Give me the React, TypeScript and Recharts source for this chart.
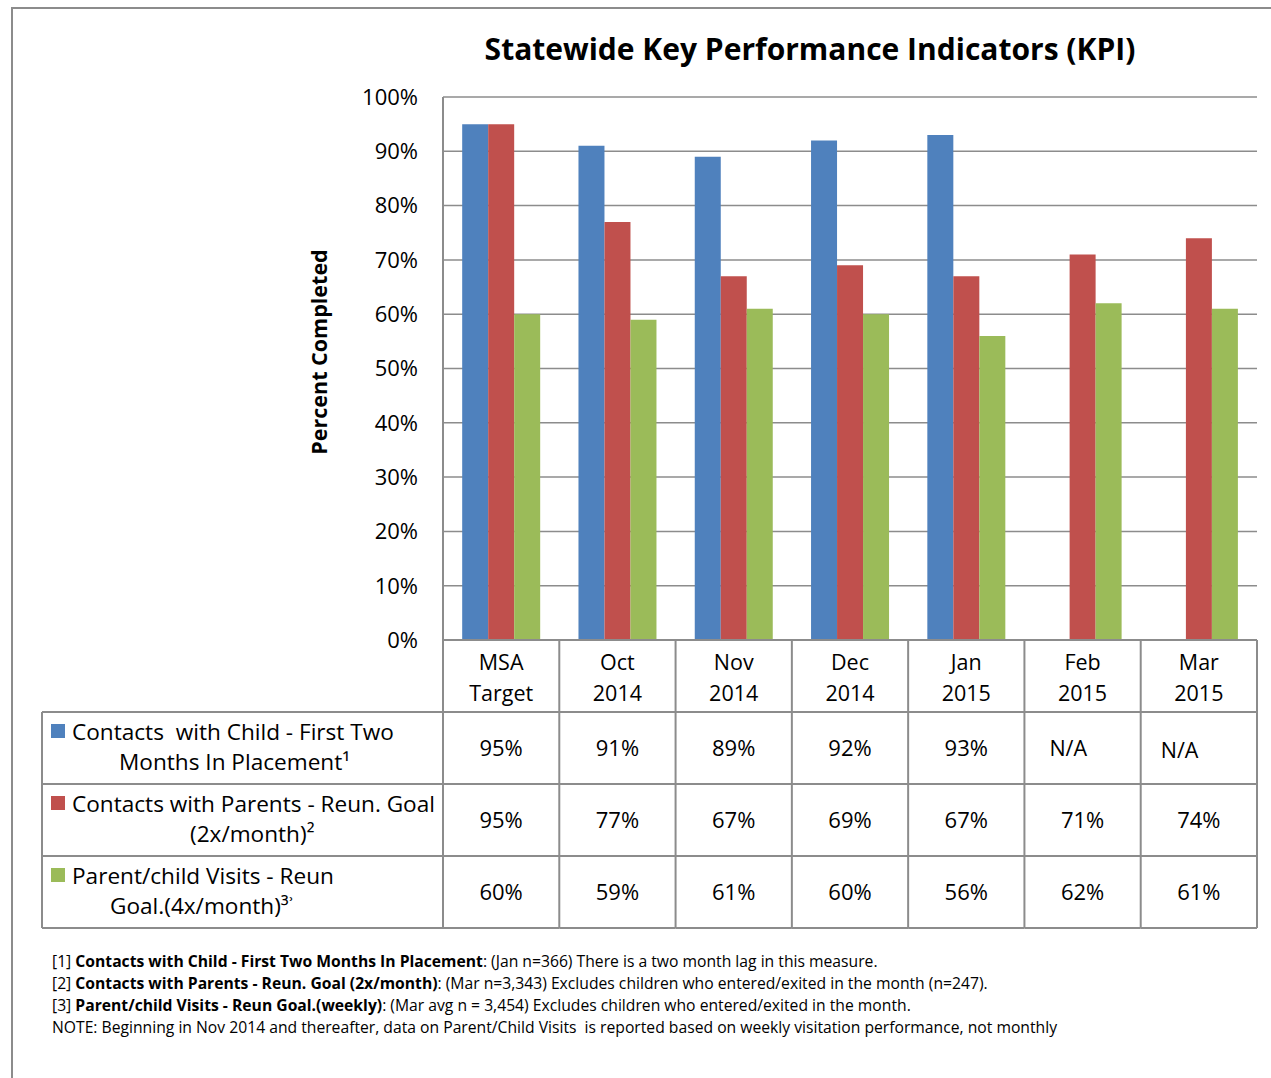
import React from 'react';
import { BarChart, Bar, XAxis, YAxis, CartesianGrid } from 'recharts';

const categories = ['MSA Target', 'Oct 2014', 'Nov 2014', 'Dec 2014', 'Jan 2015', 'Feb 2015', 'Mar 2015'];
const categoryLines = [
  ['MSA', 'Target'],
  ['Oct', '2014'],
  ['Nov', '2014'],
  ['Dec', '2014'],
  ['Jan', '2015'],
  ['Feb', '2015'],
  ['Mar', '2015'],
];
const childContacts: (number | null)[] = [95, 91, 89, 92, 93, null, null];
const parentContacts: (number | null)[] = [95, 77, 67, 69, 67, 71, 74];
const parentChildVisits: (number | null)[] = [60, 59, 61, 60, 56, 62, 61];
const yTicks = [0, 10, 20, 30, 40, 50, 60, 70, 80, 90, 100];

const seriesKeys = ['child', 'parent', 'visits'];
const seriesColors = ['#4F81BD', '#C0504D', '#9BBB59'];
const seriesLegendLines = [
  ['Contacts  with Child - First Two', 'Months In Placement\u00B9'],
  ['Contacts with Parents - Reun. Goal', '(2x/month)\u00B2'],
  ['Parent/child Visits - Reun', 'Goal.(4x/month)\u00B3\u02BE'],
];
const seriesValues = [childContacts, parentContacts, parentChildVisits];

const title = 'Statewide Key Performance Indicators (KPI)';
const yAxisTitle = 'Percent Completed';
const footnotes: [string, string, string][] = [
  ['[1] ', 'Contacts with Child - First Two Months In Placement', ': (Jan n=366) There is a two month lag in this measure.'],
  ['[2] ', 'Contacts with Parents - Reun. Goal (2x/month)', ': (Mar n=3,343) Excludes children who entered/exited in the month (n=247).'],
  ['[3] ', 'Parent/child Visits - Reun Goal.(weekly)', ': (Mar avg n = 3,454) Excludes children who entered/exited in the month.'],
  ['NOTE: Beginning in Nov 2014 and thereafter, data on Parent/Child Visits  is reported based on weekly visitation performance, not monthly', '', ''],
];

const data = categories.map((c, i) => ({
  cat: c,
  child: childContacts[i],
  parent: parentContacts[i],
  visits: parentChildVisits[i],
}));

const W = 1271;
const H = 1078;
const PLOT_LEFT = 443;
const PLOT_RIGHT = 1257;
const TABLE_LEFT = 42;
const ROW_H = 72;
const BAND = (PLOT_RIGHT - PLOT_LEFT) / categories.length;
const GRID = '#8c8c8c';
const FONT = '"Open Sans", Lato, sans-serif';

const idxOf = (payload: any) =>
  typeof payload.index === 'number' ? payload.index : categories.indexOf(payload.value);

function HeaderTick(props: any) {
  const { x, y, payload } = props;
  const idx = idxOf(payload);
  const lines = categoryLines[idx] || ['', ''];
  const left = x - BAND / 2;
  const right = x + BAND / 2;
  return (
    <g>
      {idx === 0 && <line x1={left} x2={left} y1={y} y2={y + ROW_H} stroke={GRID} strokeWidth={2} />}
      <line x1={right} x2={right} y1={y} y2={y + ROW_H} stroke={GRID} strokeWidth={2} />
      <text x={x} y={y + 21} textAnchor="middle" dominantBaseline="central" fontSize={21.5} fontFamily={FONT} fill="#000">
        {lines[0]}
      </text>
      <text x={x} y={y + 52} textAnchor="middle" dominantBaseline="central" fontSize={21.5} fontFamily={FONT} fill="#000">
        {lines[1]}
      </text>
    </g>
  );
}

const legendLine2X = [119, 190, 110];

function makeValueTick(row: number) {
  return function ValueTick(props: any) {
    const { x, y, payload } = props;
    const idx = idxOf(payload);
    const v = seriesValues[row][idx];
    const left = x - BAND / 2;
    const right = x + BAND / 2;
    const isLast = row === seriesValues.length - 1;
    const label = v == null ? 'N/A' : `${v}%`;
    const naOffset = idx === categories.length - 1 ? 20 : 25;
    return (
      <g>
        <line x1={left} x2={right} y1={y} y2={y} stroke={GRID} strokeWidth={2} />
        <line x1={right} x2={right} y1={y} y2={y + ROW_H} stroke={GRID} strokeWidth={2} />
        {isLast && <line x1={left} x2={right} y1={y + ROW_H} y2={y + ROW_H} stroke={GRID} strokeWidth={2} />}
        {idx === 0 && (
          <g>
            <line x1={TABLE_LEFT} x2={left} y1={y} y2={y} stroke={GRID} strokeWidth={2} />
            <line x1={TABLE_LEFT} x2={TABLE_LEFT} y1={y} y2={y + ROW_H} stroke={GRID} strokeWidth={2} />
            <line x1={left} x2={left} y1={y} y2={y + ROW_H} stroke={GRID} strokeWidth={2} />
            {isLast && <line x1={TABLE_LEFT} x2={left} y1={y + ROW_H} y2={y + ROW_H} stroke={GRID} strokeWidth={2} />}
            <rect x={51} y={y + 12} width={14} height={14} fill={seriesColors[row]} />
            <text x={72} y={y + 19} dominantBaseline="central" fontSize={22.6} fontFamily={FONT} fill="#000" style={{ whiteSpace: 'pre' }}>
              {seriesLegendLines[row][0]}
            </text>
            <text x={legendLine2X[row]} y={y + 49} dominantBaseline="central" fontSize={22.6} fontFamily={FONT} fill="#000">
              {seriesLegendLines[row][1]}
            </text>
          </g>
        )}
        {v == null ? (
          <text x={left + naOffset} y={y + 35 + (idx === categories.length - 1 ? 2 : 0)} dominantBaseline="central" fontSize={21.5} fontFamily={FONT} fill="#000">
            {label}
          </text>
        ) : (
          <text x={x} y={y + 35} textAnchor="middle" dominantBaseline="central" fontSize={22} fontFamily={FONT} fill="#000">
            {label}
          </text>
        )}
      </g>
    );
  };
}

const valueTicks = seriesValues.map((_, i) => makeValueTick(i));

function YTitle(props: any) {
  const vb = props.viewBox || {};
  const cx = 318;
  const cy = (vb.y ?? 97) + 255;
  return (
    <text
      x={cx}
      y={cy}
      transform={`rotate(-90, ${cx}, ${cy})`}
      textAnchor="middle"
      dominantBaseline="central"
      fontSize={21.5}
      fontWeight="bold"
      fontFamily={FONT}
      fill="#000"
    >
      {yAxisTitle}
    </text>
  );
}

export default function App() {
  return (
    <div style={{ position: 'absolute', left: 0, top: 0, width: W, height: H, overflow: 'hidden', background: '#fff', fontFamily: FONT }}>
      <div style={{ position: 'absolute', left: 11, top: 7, width: W + 20, height: H + 20, borderLeft: '2px solid #8c8c8c', borderTop: '2px solid #8c8c8c' }} />
      <div style={{ position: 'absolute', left: 410, top: 29, width: 800, lineHeight: '40px', textAlign: 'center', fontSize: 30, fontWeight: 'bold', color: '#000' }}>
        {title}
      </div>
      <div style={{ position: 'absolute', left: 0, top: 0 }}>
        <BarChart
          width={W}
          height={H}
          data={data}
          margin={{ top: 97, right: W - PLOT_RIGHT, bottom: 150, left: 0 }}
          barCategoryGap="16.5%"
          barGap={0}
        >
          <CartesianGrid horizontal vertical={false} stroke={GRID} strokeWidth={1.5} strokeDasharray="" />
          <YAxis
            width={PLOT_LEFT}
            domain={[0, 100]}
            ticks={yTicks}
            interval={0}
            tickFormatter={(v: number) => `${v}%`}
            tickLine={false}
            tickSize={0}
            tickMargin={25}
            axisLine={{ stroke: GRID, strokeWidth: 2 }}
            tick={{ fontSize: 22, fontFamily: FONT, fill: '#000' }}
            label={<YTitle />}
          />
          <XAxis
            xAxisId="cat"
            dataKey="cat"
            height={ROW_H}
            interval={0}
            tickLine={false}
            tickSize={0}
            tickMargin={0}
            axisLine={{ stroke: GRID, strokeWidth: 2 }}
            tick={<HeaderTick />}
          />
          {seriesKeys.map((k, i) => (
            <XAxis
              key={`row-${k}`}
              xAxisId={`row-${k}`}
              dataKey="cat"
              height={ROW_H}
              interval={0}
              tickLine={false}
              tickSize={0}
              tickMargin={0}
              axisLine={false}
              tick={React.createElement(valueTicks[i])}
            />
          ))}
          {seriesKeys.map((k, i) => (
            <Bar key={k} xAxisId="cat" dataKey={k} fill={seriesColors[i]} isAnimationActive={false} />
          ))}
        </BarChart>
      </div>
      <div style={{ position: 'absolute', left: 52, top: 950, fontSize: 15.7, lineHeight: '22px', color: '#000', whiteSpace: 'pre' }}>
        {footnotes.map((f, i) => (
          <div key={i}>
            {f[0]}
            {f[1] && <b>{f[1]}</b>}
            {f[2]}
          </div>
        ))}
      </div>
    </div>
  );
}
